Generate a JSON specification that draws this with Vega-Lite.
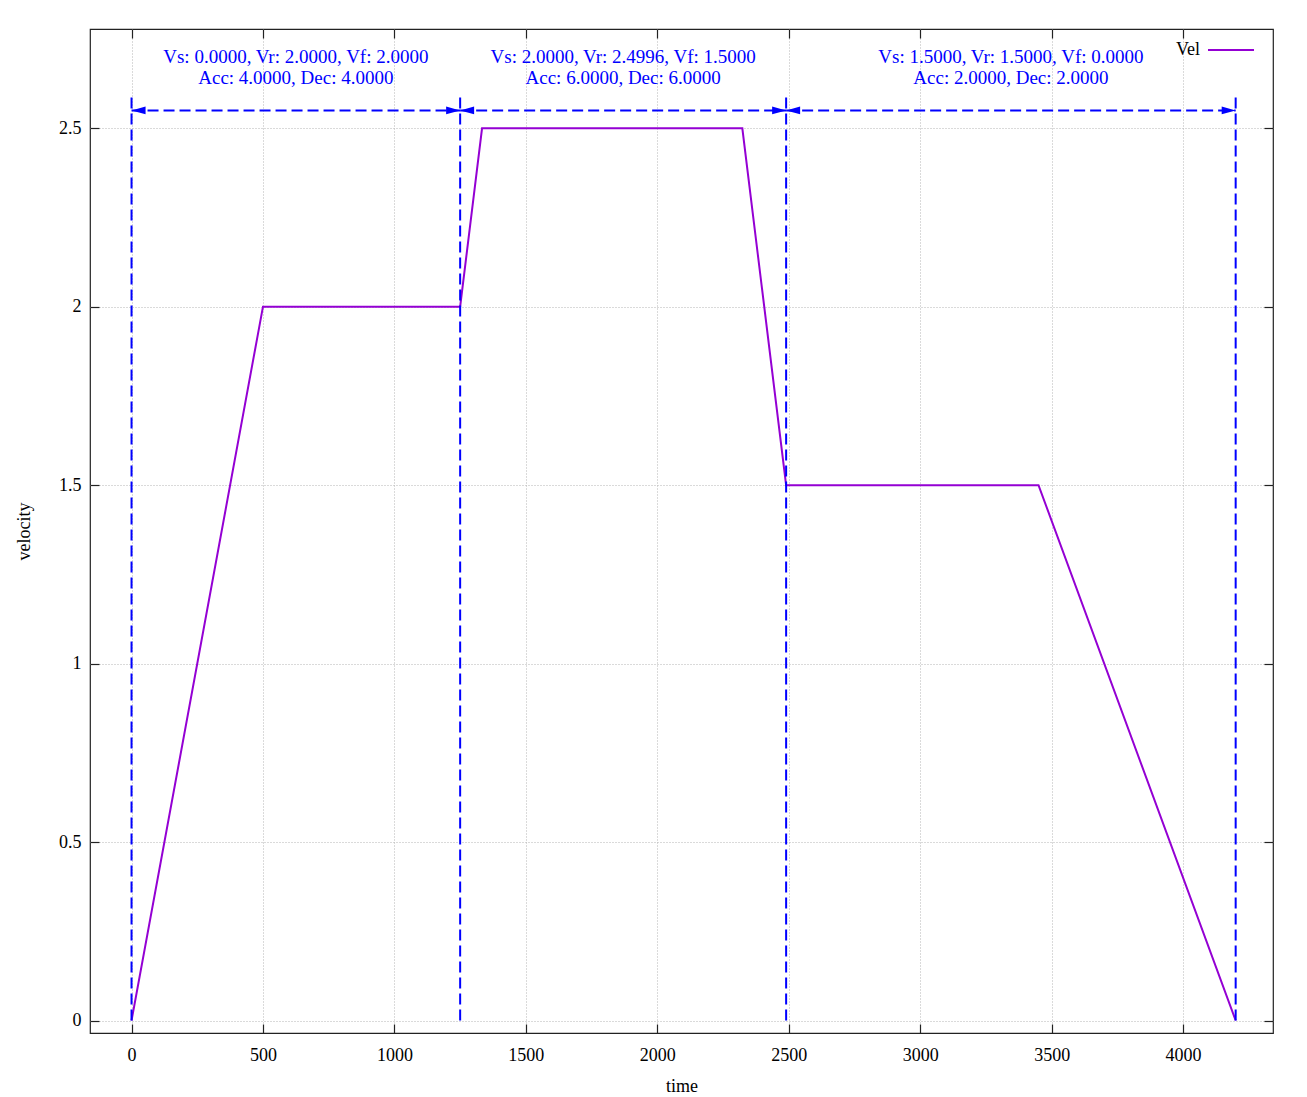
{
  "$schema": "https://vega.github.io/schema/vega-lite/v6.json",
  "autosize": "none",
  "width": 1183,
  "height": 1004,
  "padding": {"left": 90, "top": 29, "right": 34, "bottom": 64},
  "background": "white",
  "config": {
    "view": {"stroke": "#222222", "strokeWidth": 1.2},
    "font": "Liberation Serif",
    "axis": {
      "labelFont": "Liberation Serif",
      "labelFontSize": 18,
      "labelColor": "#000000",
      "titleFont": "Liberation Serif",
      "titleFontSize": 18,
      "titleFontWeight": "normal",
      "titleColor": "#000000",
      "domain": false,
      "tickColor": "#222222",
      "tickWidth": 1.2,
      "gridColor": "#b4b4b4",
      "gridDash": [1, 2],
      "gridWidth": 1
    },
    "legend": {
      "labelFont": "Liberation Serif",
      "labelFontSize": 18,
      "labelColor": "#000000"
    }
  },
  "datasets": {
    "profile": [
      {"t": 0, "v": 0, "series": "Vel"},
      {"t": 500, "v": 2, "series": "Vel"},
      {"t": 1250, "v": 2, "series": "Vel"},
      {"t": 1333.3, "v": 2.4996, "series": "Vel"},
      {"t": 2323.4, "v": 2.4996, "series": "Vel"},
      {"t": 2490, "v": 1.5, "series": "Vel"},
      {"t": 3450, "v": 1.5, "series": "Vel"},
      {"t": 4200, "v": 0, "series": "Vel"}
    ],
    "bounds": [
      {"t": 0, "v0": 0, "v1": 2.6},
      {"t": 1250, "v0": 0, "v1": 2.6},
      {"t": 2490, "v0": 0, "v1": 2.6},
      {"t": 4200, "v0": 0, "v1": 2.6}
    ],
    "spans": [
      {"start": 0, "end": 1250, "v": 2.55},
      {"start": 1250, "end": 2490, "v": 2.55},
      {"start": 2490, "end": 4200, "v": 2.55}
    ],
    "heads": [
      {"t": 0, "v": 2.55, "dir": "left"},
      {"t": 1250, "v": 2.55, "dir": "right"},
      {"t": 1250, "v": 2.55, "dir": "left"},
      {"t": 2490, "v": 2.55, "dir": "right"},
      {"t": 2490, "v": 2.55, "dir": "left"},
      {"t": 4200, "v": 2.55, "dir": "right"}
    ],
    "labels": [
      {"t": 625, "v": 2.7, "text": "Vs: 0.0000, Vr: 2.0000, Vf: 2.0000"},
      {"t": 625, "v": 2.641, "text": "Acc: 4.0000, Dec: 4.0000"},
      {"t": 1870, "v": 2.7, "text": "Vs: 2.0000, Vr: 2.4996, Vf: 1.5000"},
      {"t": 1870, "v": 2.641, "text": "Acc: 6.0000, Dec: 6.0000"},
      {"t": 3345, "v": 2.7, "text": "Vs: 1.5000, Vr: 1.5000, Vf: 0.0000"},
      {"t": 3345, "v": 2.641, "text": "Acc: 2.0000, Dec: 2.0000"}
    ]
  },
  "layer": [
    {
      "data": {"name": "profile"},
      "mark": {"type": "line", "strokeWidth": 2, "clip": true},
      "encoding": {
        "x": {
          "field": "t", "type": "quantitative",
          "scale": {"domain": [-158, 4342], "nice": false, "zero": false},
          "axis": {
            "orient": "bottom", "title": "time", "values": [0, 500, 1000, 1500, 2000, 2500, 3000, 3500, 4000],
            "format": "d", "tickSize": -9, "labelPadding": 22, "titlePadding": 13, "grid": true
          }
        },
        "y": {
          "field": "v", "type": "quantitative",
          "scale": {"domain": [-0.035, 2.778], "nice": false, "zero": false},
          "axis": {
            "orient": "left", "title": "velocity", "values": [0, 0.5, 1, 1.5, 2, 2.5],
            "format": "~g", "tickSize": -9, "labelPadding": 18, "titlePadding": 25, "grid": true
          }
        },
        "color": {
          "field": "series", "type": "nominal",
          "scale": {"range": ["#9400d3"]},
          "legend": {
            "title": null, "orient": "none", "legendX": 1117, "legendY": -3, "padding": 0,
            "symbolType": "stroke", "symbolSize": 2116, "symbolStrokeWidth": 2,
            "labelAlign": "right", "labelOffset": -55
          }
        }
      }
    },
    {
      "data": {"name": "bounds"},
      "mark": {"type": "rule", "color": "#0000ff", "strokeWidth": 2, "strokeDash": [11, 5]},
      "encoding": {
        "x": {
          "field": "t", "type": "quantitative",
          "axis": {"orient": "top", "labels": false, "title": null, "grid": false, "tickSize": -9, "values": [0, 500, 1000, 1500, 2000, 2500, 3000, 3500, 4000]}
        },
        "y": {
          "field": "v0", "type": "quantitative",
          "axis": {"orient": "right", "labels": false, "title": null, "grid": false, "tickSize": -9, "values": [0, 0.5, 1, 1.5, 2, 2.5]}
        },
        "y2": {"field": "v1"}
      }
    },
    {
      "data": {"name": "spans"},
      "mark": {"type": "rule", "color": "#0000ff", "strokeWidth": 2, "strokeDash": [11, 5]},
      "encoding": {
        "x": {"field": "start", "type": "quantitative", "axis": null},
        "x2": {"field": "end"},
        "y": {"field": "v", "type": "quantitative", "axis": null}
      }
    },
    {
      "data": {"name": "heads"},
      "mark": {"type": "point", "filled": true, "color": "#0000ff", "opacity": 1, "size": 196},
      "encoding": {
        "x": {"field": "t", "type": "quantitative", "axis": null},
        "y": {"field": "v", "type": "quantitative", "axis": null},
        "shape": {
          "field": "dir", "type": "nominal",
          "scale": {"domain": ["left", "right"], "range": ["M0,0L2,-0.55L2,0.55Z", "M0,0L-2,-0.55L-2,0.55Z"]},
          "legend": null
        }
      }
    },
    {
      "data": {"name": "labels"},
      "mark": {"type": "text", "color": "#0000ff", "font": "Liberation Serif", "fontSize": 19, "align": "center", "baseline": "middle"},
      "encoding": {
        "x": {"field": "t", "type": "quantitative", "axis": null},
        "y": {"field": "v", "type": "quantitative", "axis": null},
        "text": {"field": "text", "type": "nominal"}
      }
    }
  ],
  "resolve": {"axis": {"x": "independent", "y": "independent"}}
}
